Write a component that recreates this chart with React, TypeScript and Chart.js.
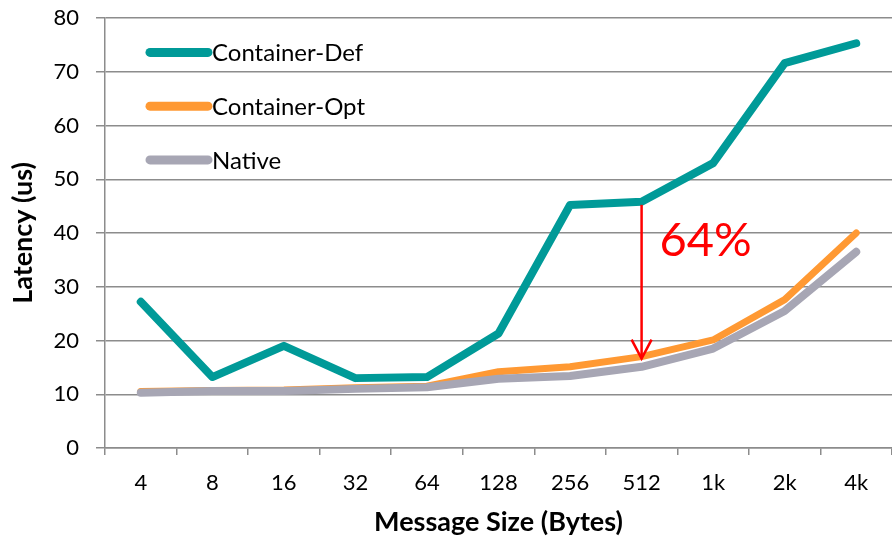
import React, { useEffect, useRef } from "react";
import { Chart, registerables } from "chart.js";

Chart.register(...registerables);

const categories = ["4", "8", "16", "32", "64", "128", "256", "512", "1k", "2k", "4k"];
const containerDef = [27.2, 13.2, 19.0, 13.0, 13.2, 21.3, 45.2, 45.8, 53.0, 71.6, 75.3];
const containerOpt = [10.5, 10.7, 10.8, 11.2, 11.5, 14.2, 15.1, 17.0, 20.1, 27.6, 40.0];
const nativeVals = [10.3, 10.6, 10.6, 11.0, 11.3, 12.9, 13.4, 15.1, 18.5, 25.5, 36.5];
const yTicks = [0, 10, 20, 30, 40, 50, 60, 70, 80];
const annotationText = "64%";
const annotationIndex = 7;

const TEAL = "#009a98";
const ORANGE = "#ff9933";
const GRAY = "#a7a6b4";
const FONT = "Lato, 'Open Sans', sans-serif";

const legendItems = [
  { label: "Container-Def", color: TEAL },
  { label: "Container-Opt", color: ORANGE },
  { label: "Native", color: GRAY },
];

const overlayPlugin = {
  id: "overlay",
  afterDatasetsDraw(chart: any) {
    const ctx = chart.ctx;
    const xs = chart.scales.x;
    const ys = chart.scales.y;
    const area = chart.chartArea;
    ctx.save();
    // legend
    const lx0 = area.left + 45;
    const lx1 = area.left + 103;
    legendItems.forEach((it, i) => {
      const y = ys.getPixelForValue(73.6 - i * 10);
      ctx.strokeStyle = it.color;
      ctx.lineWidth = 9;
      ctx.lineCap = "round";
      ctx.beginPath();
      ctx.moveTo(lx0, y);
      ctx.lineTo(lx1, y);
      ctx.stroke();
      ctx.fillStyle = "#000";
      ctx.font = `24px ${FONT}`;
      ctx.textBaseline = "middle";
      ctx.textAlign = "left";
      ctx.fillText(it.label, lx1 + 4, y + 1);
    });
    // arrow
    const ax = xs.getPixelForValue(annotationIndex);
    const yTop = ys.getPixelForValue(containerDef[annotationIndex]) + 3;
    const yBot = ys.getPixelForValue(containerOpt[annotationIndex]) + 2;
    ctx.strokeStyle = "#ff0000";
    ctx.lineWidth = 2.5;
    ctx.lineCap = "butt";
    ctx.beginPath();
    ctx.moveTo(ax, yTop);
    ctx.lineTo(ax, yBot);
    ctx.stroke();
    ctx.beginPath();
    ctx.moveTo(ax - 10, yBot - 19);
    ctx.lineTo(ax, yBot);
    ctx.lineTo(ax + 10, yBot - 19);
    ctx.stroke();
    ctx.fillStyle = "#ff0000";
    ctx.font = `47px ${FONT}`;
    ctx.textAlign = "left";
    ctx.textBaseline = "alphabetic";
    ctx.fillText(annotationText, ax + 18, ys.getPixelForValue(35.8));
    ctx.restore();
  },
};

export default function App() {
  const ref = useRef<HTMLCanvasElement>(null);
  useEffect(() => {
    document.body.style.margin = "0";
    const chart = new Chart(ref.current!, {
      type: "line",
      data: {
        labels: categories,
        datasets: [
          { label: "Container-Def", data: containerDef, borderColor: TEAL, backgroundColor: TEAL, borderWidth: 8, order: 2 },
          { label: "Container-Opt", data: containerOpt, borderColor: ORANGE, backgroundColor: ORANGE, borderWidth: 7, order: 1 },
          { label: "Native", data: nativeVals, borderColor: GRAY, backgroundColor: GRAY, borderWidth: 8, order: 0 },
        ].map((d) => ({ ...d, pointRadius: 0, tension: 0, borderCapStyle: "round", borderJoinStyle: "round", fill: false })) as any,
      },
      options: {
        animation: false,
        responsive: false,
        layout: { padding: { top: 18, right: 0, left: 0, bottom: 0 } },
        plugins: { legend: { display: false }, tooltip: { enabled: false } },
        scales: {
          x: {
            offset: true,
            grid: { offset: true, drawOnChartArea: false, drawTicks: true, tickLength: 7, color: "#8c8c8c", lineWidth: 1.5 },
            border: { color: "#8c8c8c", width: 1.5 },
            ticks: { color: "#000", font: { family: FONT, size: 22 }, padding: 15, maxRotation: 0 },
            title: { display: true, text: "Message Size (Bytes)", color: "#000", font: { family: FONT, size: 27, weight: "bold" }, padding: { top: 4, bottom: 1 } },
            afterFit(scale: any) { scale.height = 91; scale.paddingLeft = 0; scale.paddingRight = 0; },
          },
          y: {
            min: 0,
            max: 80,
            afterBuildTicks(scale: any) { scale.ticks = yTicks.map((v) => ({ value: v })); },
            grid: { color: "#8c8c8c", lineWidth: 1.5, tickLength: 9, drawTicks: true },
            border: { color: "#8c8c8c", width: 1.5 },
            ticks: { color: "#000", font: { family: FONT, size: 22 }, padding: 17 },
            title: { display: true, text: "Latency (us)", color: "#000", font: { family: FONT, size: 27, weight: "bold" }, padding: { top: 7, bottom: 4 } },
            afterFit(scale: any) { scale.width = 105; scale.paddingTop = 0; scale.paddingBottom = 0; },
          },
        },
      },
      plugins: [overlayPlugin],
    });
    return () => chart.destroy();
  }, []);
  return (
    <div style={{ width: 892, height: 539 }}>
      <canvas ref={ref} width={892} height={539} style={{ width: 892, height: 539, display: "block" }} />
    </div>
  );
}
